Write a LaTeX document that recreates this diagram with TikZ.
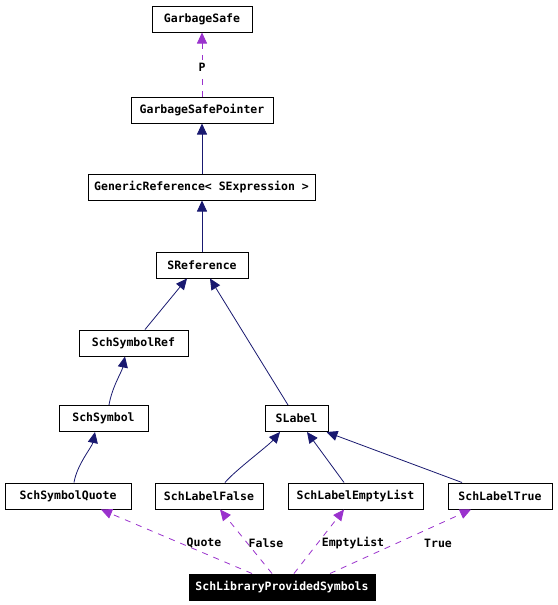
\documentclass[tikz,border=0pt]{standalone}
\usepackage{fontspec}
\newfontfamily\dxfont{DejaVu Sans Mono}
\usetikzlibrary{arrows.meta,calc}
\definecolor{navyedge}{HTML}{191970}
\definecolor{purpleedge}{HTML}{9A32CD}
\begin{document}
\begin{tikzpicture}[x=1pt,y=-1pt,
  font=\dxfont\bfseries\fontsize{11.5}{13}\selectfont,
  cls/.style={draw=black,line width=1pt,minimum height=26pt,inner sep=0pt,fill=white},
  inh/.style={draw=navyedge,line width=0.8pt,-{Triangle[length=11pt,width=10pt,fill=navyedge]}},
  use/.style={draw=purpleedge,line width=0.8pt,dash pattern=on 6pt off 6pt,-{Triangle[length=11pt,width=10pt,fill=purpleedge]}},
  lbl/.style={inner sep=0pt,text=black}]
\useasboundingbox (0,0) rectangle (557,605);
\fill[white] (0,0) rectangle (557,605);
\node[cls,minimum width=100pt] (gs) at (202,19) {GarbageSafe};
\node[cls,minimum width=142pt] (gsp) at (202,110) {GarbageSafePointer};
\node[cls,minimum width=227pt] (gr) at (201.5,187) {GenericReference< SExpression >};
\node[cls,minimum width=92pt] (sref) at (202,265) {SReference};
\node[cls,minimum width=109pt] (ssr) at (133.5,343) {SchSymbolRef};
\node[cls,minimum width=89pt] (ss) at (103.5,418.5) {SchSymbol};
\node[cls,minimum width=63pt] (sl) at (296.5,418.5) {SLabel};
\node[cls,minimum width=126pt] (ssq) at (68,496) {SchSymbolQuote};
\node[cls,minimum width=108pt] (slf) at (209,496) {SchLabelFalse};
\node[cls,minimum width=135pt] (sle) at (355.5,496) {SchLabelEmptyList};
\node[cls,minimum width=104pt] (slt) at (500,496) {SchLabelTrue};
\node[cls,minimum width=186pt,fill=black,text=white] (lib) at (282,587) {SchLibraryProvidedSymbols};

\draw[use] (gsp.north) -- (gs.south);
\node[lbl,fill=white,inner sep=3pt] (lp) at (202,67) {P};
\draw[inh] (gr.north -| gsp.south) -- (gsp.south);
\draw[inh] (sref.north) -- (gr.south -| sref.north);
\draw[inh] ([xshift=11.5pt]ssr.north) -- ([xshift=-15pt]sref.south);
\draw[inh] ([xshift=-8.5pt]sl.north) -- ([xshift=8pt]sref.south);
\draw[inh] ([xshift=5.5pt]ss.north) .. controls +(3,-18) and +(-3,15) .. ([xshift=-8.5pt]ssr.south);
\draw[inh] ([xshift=6pt]ssq.north) .. controls +(3,-18) and +(-3,15) .. ([xshift=-8.5pt]ss.south);
\draw[inh] ([xshift=16pt]slf.north) .. controls +(10,-12) and +(-12,14) .. ([xshift=-16.5pt]sl.south);
\draw[inh] ([xshift=-11.5pt]sle.north) -- ([xshift=10.5pt]sl.south);
\draw[inh] ([xshift=-38pt]slt.north) -- ([xshift=-2pt]sl.south east);

\draw[use] ([xshift=-30pt]lib.north) -- ([xshift=33pt]ssq.south);
\draw[use] ([xshift=-10pt]lib.north) -- ([xshift=11pt]slf.south);
\draw[use] ([xshift=12pt]lib.north) -- ([xshift=-11.5pt]sle.south);
\draw[use] ([xshift=48pt]lib.north) -- ([xshift=-29pt]slt.south);
\node[lbl] (lq) at (204,543) {Quote};
\node[lbl] (lf) at (266,543) {False};
\node[lbl] (le) at (353,543) {EmptyList};
\node[lbl] (lt) at (438,543) {True};
\end{tikzpicture}
\end{document}
